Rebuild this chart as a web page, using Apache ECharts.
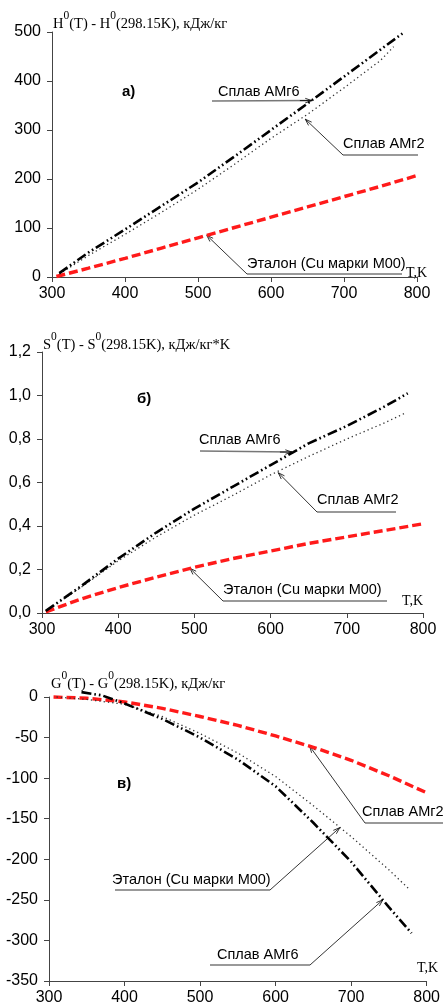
<!DOCTYPE html>
<html><head><meta charset="utf-8">
<script src="https://cdn.jsdelivr.net/npm/echarts@6/dist/echarts.min.js"></script>
<style>html,body{margin:0;padding:0;background:#fff}#c{width:443px;height:1008px}</style>
</head><body><div id="c"></div>
<script>
// ---------- data ----------
// a) enthalpy H0(T)-H0(298.15K), kJ/kg
const tA_amg6 = [310,350,400,450,500,550,600,650,700,750,780];
const hAMg6   = [8,50,97,145,193,246,300,354,409,464,497];
const tA_amg2 = [310,350,400,450,500,550,600,650,700,750,768];
const hAMg2   = [6,44,87,132,179,230,283,332,386,442,470];
const tA_cu   = [306,350,400,450,500,550,600,650,700,750,800];
const hCu     = [1,18,38,59,80,101,122,143,164,185,207];
// b) entropy S0(T)-S0(298.15K), kJ/(kg*K)
const tB_amg6 = [305,350,400,450,500,550,600,650,700,750,780];
const sAMg6   = [0.01,0.12,0.25,0.37,0.48,0.58,0.68,0.78,0.86,0.95,1.01];
const tB_amg2 = [305,350,400,450,500,550,600,650,700,750,776];
const sAMg2   = [0.01,0.115,0.24,0.35,0.45,0.54,0.635,0.72,0.80,0.875,0.918];
const tB_cu   = [305,350,400,450,500,550,600,650,700,750,800];
const sCu     = [0.005,0.063,0.117,0.165,0.21,0.25,0.285,0.32,0.35,0.38,0.41];
// c) Gibbs energy G0(T)-G0(298.15K), kJ/kg
const tC_black  = [343,370,400,450,500,550,600,650,700,750,780];
const gBlack    = [6,2,-8,-27,-50,-77,-110,-155,-203,-259,-291];
const tC_dotted = [310,350,400,450,500,550,600,650,700,750,776];
const gDotted   = [0,-3,-9,-24,-45,-69,-98,-134,-172,-213,-236];
const tC_red    = [306,350,400,450,500,550,600,650,700,750,800];
const gRed      = [0,-1.5,-6,-14,-24,-35,-48,-62,-78,-97,-118];
// axis ticks
const xTicks = [300,400,500,600,700,800];
const yTicksA = [0,100,200,300,400,500];
const yTicksB = [0,0.2,0.4,0.6,0.8,1.0,1.2];
const yTicksC = [-350,-300,-250,-200,-150,-100,-50,0];
// labels
const nameAMg6 = 'Сплав АМг6';
const nameAMg2 = 'Сплав АМг2';
const nameCu   = 'Эталон (Cu марки М00)';

const zip = (xs, ys) => xs.map((x, i) => [x, ys[i]]);

const styleBlack = {color:'#000', width:2.6, type:[10,3,1.6,3,1.6,3]};
const styleDot   = {color:'#333', width:1.3, type:[1.3,3]};
const styleRed   = {color:'#ff1a1a', width:3.4, type:[9,4]};

function ser(idx, data, ls, name) {
  return {type:'line', name, xAxisIndex:idx, yAxisIndex:idx, data, symbol:'none',
          smooth:false, clip:false, lineStyle:ls, silent:true, animation:false};
}

const axisCommon = {
  axisLine:{show:true, onZero:false, lineStyle:{color:'#444', width:1}},
  axisTick:{show:true, inside:false, length:5, lineStyle:{color:'#444'}},
  splitLine:{show:false},
  axisLabel:{color:'#000', fontFamily:'Liberation Sans, Arial, sans-serif', fontSize:16}
};
function xAx(i) {
  return Object.assign({}, axisCommon, {type:'value', gridIndex:i, min:xTicks[0], max:xTicks[xTicks.length-1], interval:100,
    axisLabel:Object.assign({}, axisCommon.axisLabel, {margin:9})});
}
function yAx(i, ticks, fmt) {
  return Object.assign({}, axisCommon, {type:'value', gridIndex:i, min:ticks[0], max:ticks[ticks.length-1],
    interval: +(ticks[1]-ticks[0]).toFixed(6),
    axisLabel:Object.assign({}, axisCommon.axisLabel, {margin:11, formatter:fmt})});
}

const chart = echarts.init(document.getElementById('c'), null, {renderer:'canvas'});
chart.setOption({
  animation:false,
  backgroundColor:'#fff',
  grid:[
    {left:52, right:26, top:32, height:245},
    {left:42, right:20, top:352, height:261},
    {left:49, right:16, top:697, height:284}
  ],
  xAxis:[xAx(0), xAx(1), xAx(2)],
  yAxis:[
    yAx(0, yTicksA, v => String(v)),
    yAx(1, yTicksB, v => v.toFixed(1).replace('.', ',')),
    yAx(2, yTicksC, v => String(v))
  ],
  series:[
    ser(0, zip(tA_cu, hCu), styleRed, nameCu),
    ser(0, zip(tA_amg2, hAMg2), styleDot, nameAMg2),
    ser(0, zip(tA_amg6, hAMg6), styleBlack, nameAMg6),
    ser(1, zip(tB_cu, sCu), styleRed, nameCu),
    ser(1, zip(tB_amg2, sAMg2), styleDot, nameAMg2),
    ser(1, zip(tB_amg6, sAMg6), styleBlack, nameAMg6),
    ser(2, zip(tC_red, gRed), styleRed, 'red'),
    ser(2, zip(tC_dotted, gDotted), styleDot, 'dotted'),
    ser(2, zip(tC_black, gBlack), styleBlack, 'black')
  ]
});

// ---------- annotations ----------
const serif = 'Liberation Serif, Times New Roman, serif';
const sans = 'Liberation Sans, Arial, sans-serif';
const g = [];
const mctx = document.createElement('canvas').getContext('2d');
function titleText(x, y, letter, rest) {
  const baseFont = '14.5px ' + serif, supFont = '11.5px ' + serif;
  const parts = [[letter,0],['0',1],['(T) - ' + letter,0],['0',1],[rest,0]];
  let cx = x;
  parts.forEach(([t, sup]) => {
    const f = sup ? supFont : baseFont;
    g.push({type:'text', x:cx, y: sup ? y : y + 7, silent:true,
      style:{text:t, font:f, fill:'#000', textVerticalAlign:'top'}});
    mctx.font = f; cx += mctx.measureText(t).width;
  });
}
function plainText(x, y, text, font) {
  g.push({type:'text', x, y, silent:true, style:{text, font, fill:'#000', textVerticalAlign:'top'}});
}
function seg(x1, y1, x2, y2, color, w) {
  g.push({type:'line', silent:true, shape:{x1, y1, x2, y2}, style:{stroke:color, lineWidth:w}});
}
function arrow(x1, y1, x2, y2) {
  seg(x1, y1, x2, y2, '#000', 0.8);
  const a = Math.atan2(y2 - y1, x2 - x1), L = 7, s = 0.33;
  g.push({type:'polyline', silent:true, shape:{points:[
    [x2 - L*Math.cos(a - s), y2 - L*Math.sin(a - s)], [x2, y2],
    [x2 - L*Math.cos(a + s), y2 - L*Math.sin(a + s)]]}, style:{stroke:'#000', lineWidth:0.8, fill:null}});
}
const px = (gi, T, v) => chart.convertToPixel({gridIndex:gi}, [T, v]);
const lblFont = '14.5px ' + sans;
const ulColor = '#777';

// a)
titleText(53, 10, 'H', '(298.15K), кДж/кг');
plainText(122, 84, 'а)', 'bold 15px ' + sans);
plainText(406, 266, 'T,K', '14px ' + serif);
{
  const t = px(0, 656, 360);
  plainText(218, 84, nameAMg6, lblFont);
  seg(212, 101, t[0], t[1], ulColor, 1.5); arrow(t[0]-12, t[1], t[0], t[1]);
  const t2 = px(0, 647, 322);
  plainText(343, 136, nameAMg2, lblFont);
  seg(343, 155, 418, 155, ulColor, 1.5); arrow(343, 155, t2[0], t2[1]);
  const t3 = px(0, 512, 85);
  plainText(247, 256, nameCu, lblFont);
  seg(247, 274, 402, 274, ulColor, 1.5); arrow(247, 274, t3[0], t3[1]);
}
// b)
titleText(43, 331, 'S', '(298.15K), кДж/кг*K');
plainText(137, 391, 'б)', 'bold 15px ' + sans);
plainText(402, 594, 'T,K', '14px ' + serif);
{
  const t = px(1, 628, 0.74);
  plainText(199, 432, nameAMg6, lblFont);
  seg(200, 451, t[0], t[1], ulColor, 1.5); arrow(t[0]-12, t[1], t[0], t[1]);
  const t2 = px(1, 610, 0.645);
  plainText(317, 492, nameAMg2, lblFont);
  seg(317, 512, 396, 512, ulColor, 1.5); arrow(317, 512, t2[0], t2[1]);
  const t3 = px(1, 494, 0.206);
  plainText(223, 582, nameCu, lblFont);
  seg(223, 601, 387, 601, ulColor, 1.5); arrow(223, 601, t3[0], t3[1]);
}
// c)
titleText(51, 670, 'G', '(298.15K), кДж/кг');
plainText(117, 776, 'в)', 'bold 15px ' + sans);
plainText(417, 961, 'T,K', '14px ' + serif);
{
  const t = px(2, 645, -60.5);
  plainText(362, 804, nameAMg2, lblFont);
  seg(365, 823, 443, 823, ulColor, 1.5); arrow(365, 823, t[0], t[1]);
  const t2 = px(2, 685, -161);
  plainText(112, 872, nameCu, lblFont);
  seg(115, 890, 270, 890, ulColor, 1.5); arrow(270, 890, t2[0], t2[1]);
  const t3 = px(2, 742, -250);
  plainText(217, 947, nameAMg6, lblFont);
  seg(210, 965, 310, 965, ulColor, 1.5); arrow(310, 965, t3[0], t3[1]);
}
chart.setOption({graphic:{elements:g}});
</script>
</body></html>
